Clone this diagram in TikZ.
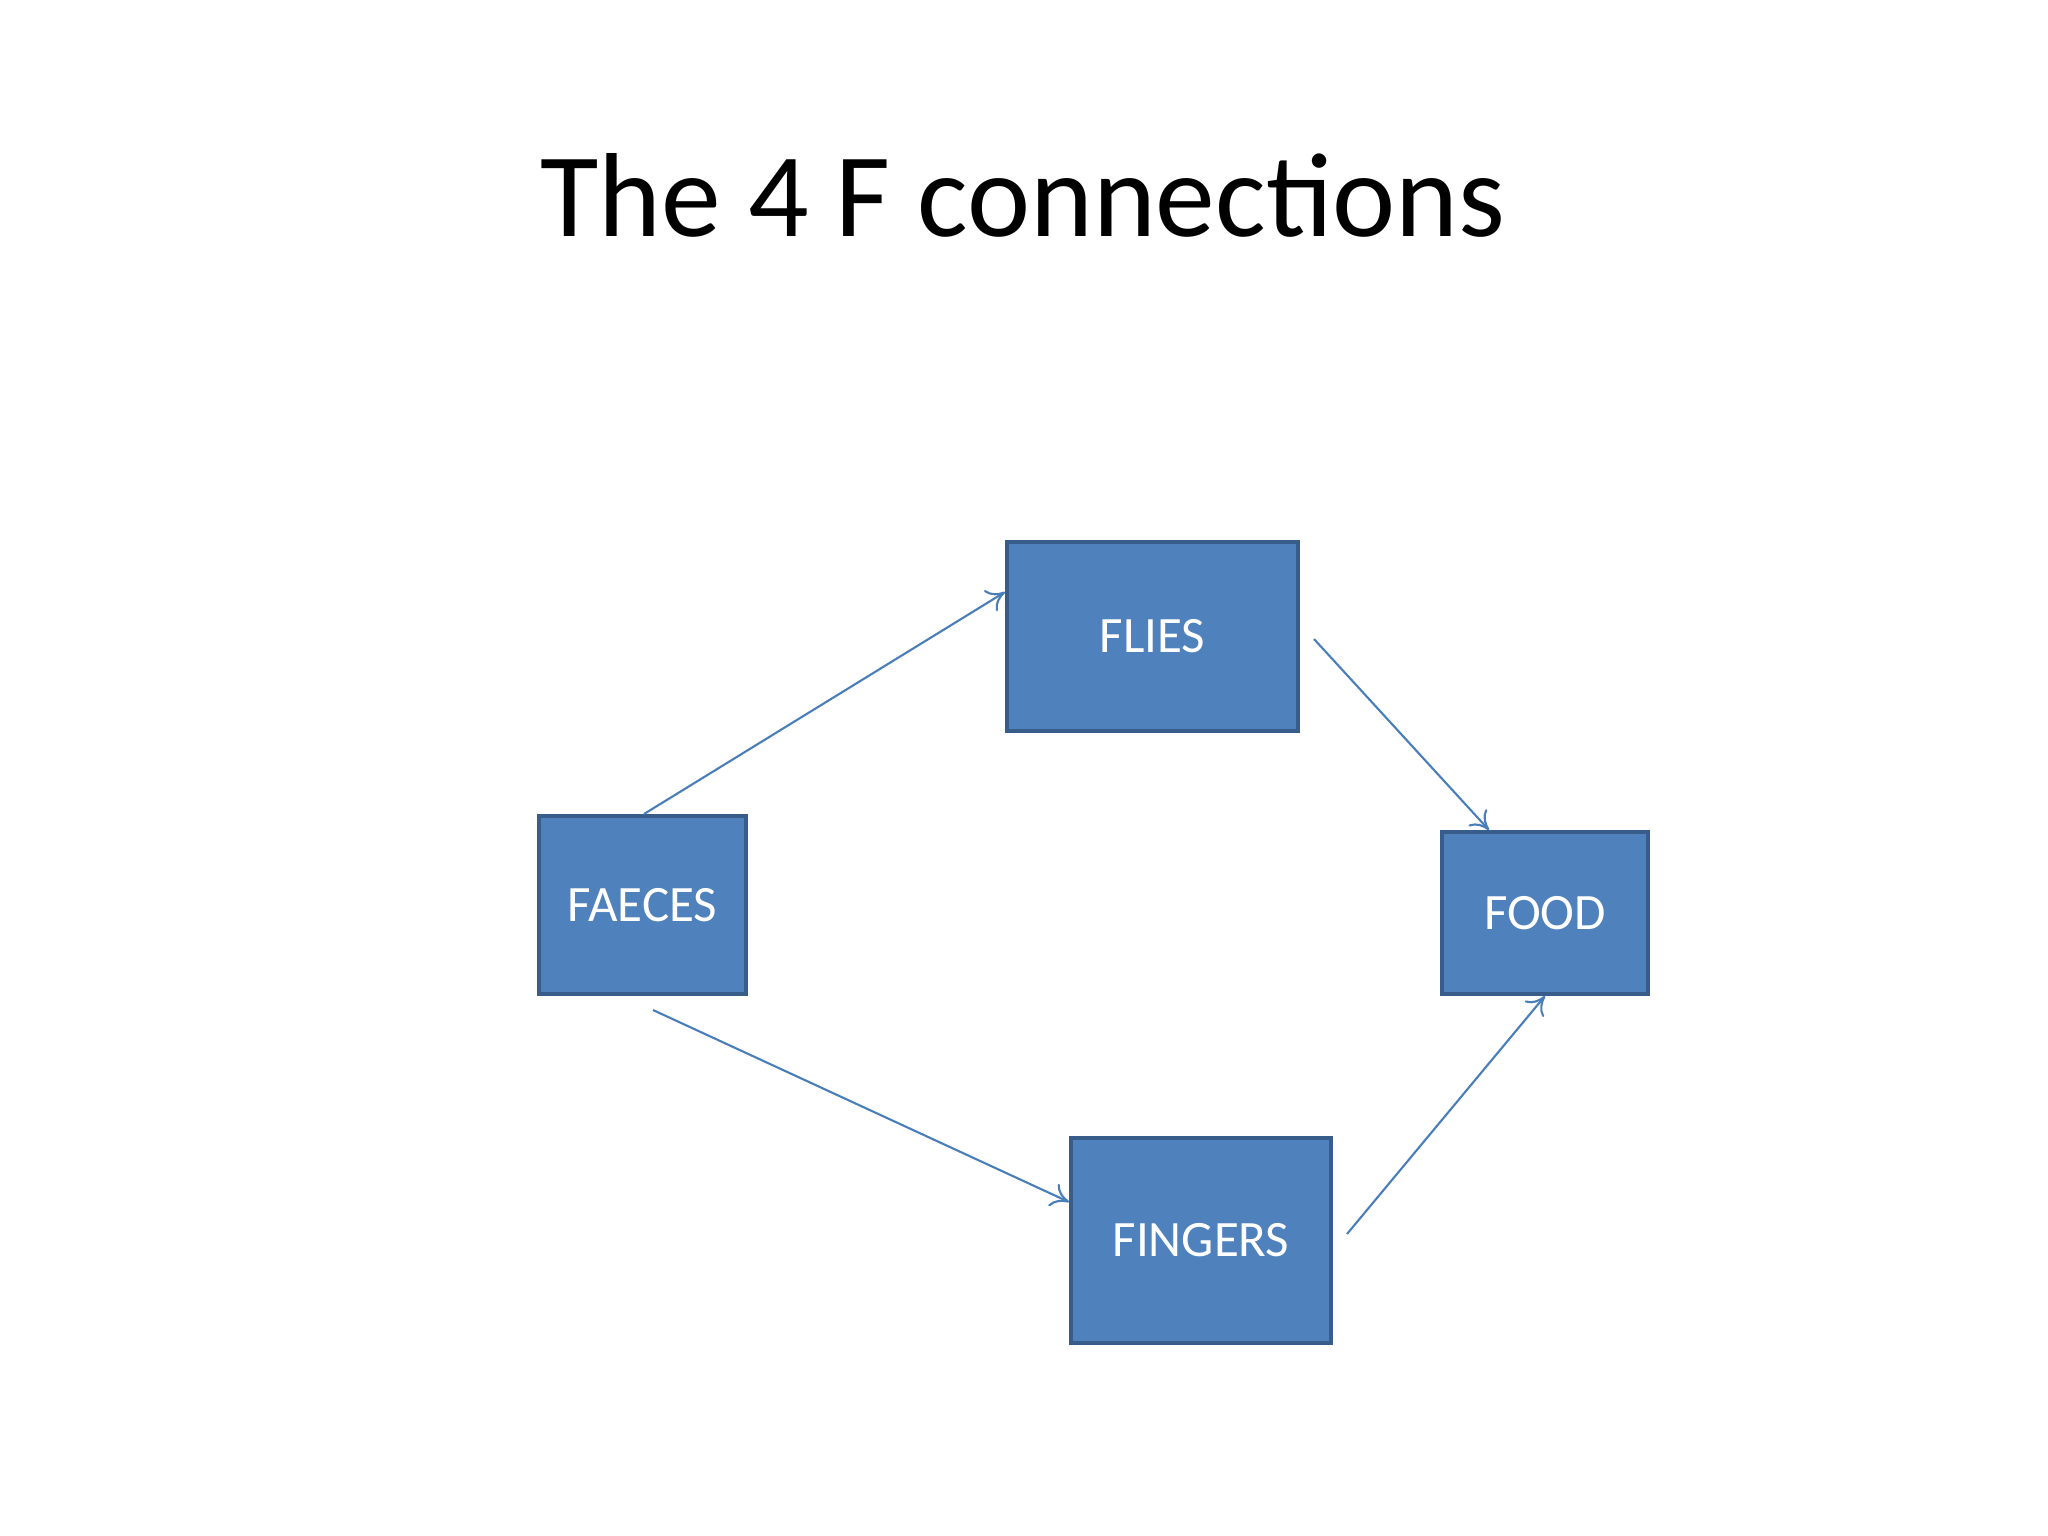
\documentclass[tikz,border=0pt]{standalone}
\usepackage{fontspec}
\setmainfont{Carlito}
\usetikzlibrary{arrows.meta}
\definecolor{boxfill}{HTML}{4F81BD}
\definecolor{boxline}{HTML}{385D8A}
\definecolor{arr}{HTML}{4A7EBB}
\begin{document}
\begin{tikzpicture}[x=0.01cm,y=-0.01cm,
  box/.style={draw=boxline,fill=boxfill,line width=1.1pt,text=white,font=\fontsize{14.5pt}{17pt}\selectfont,inner sep=0pt},
  conn/.style={draw=arr,line width=0.6pt,-{To[length=5pt,width=7pt]}}]
\useasboundingbox (0,0) rectangle (2048,1536);
\fill[white] (0,0) rectangle (2048,1536);
\node[font=\fontsize{34pt}{40pt}\selectfont] (title) at (1023,195) {The 4 F connections};
\node[box,minimum width=2.91cm,minimum height=1.89cm] (flies) at (1152.5,636.5) {FLIES};
\node[box,minimum width=2.07cm,minimum height=1.78cm] (faeces) at (642.5,905) {FAECES};
\node[box,minimum width=2.06cm,minimum height=1.62cm] (food) at (1545,913) {FOOD};
\node[box,minimum width=2.60cm,minimum height=2.05cm] (fingers) at (1201,1240.5) {FINGERS};
\coordinate (c1) at (644,814);
\coordinate (c2) at (1314,639);
\coordinate (c3) at (653,1010);
\coordinate (c4) at (1347,1234);
\draw[conn] (c1) -- (flies.west |- 0,592);
\draw[conn] (c2) -- (food.north -| 1489,0);
\draw[conn] (c3) -- (fingers.west |- 0,1202);
\draw[conn] (c4) -- (food.south);
\end{tikzpicture}
\end{document}
